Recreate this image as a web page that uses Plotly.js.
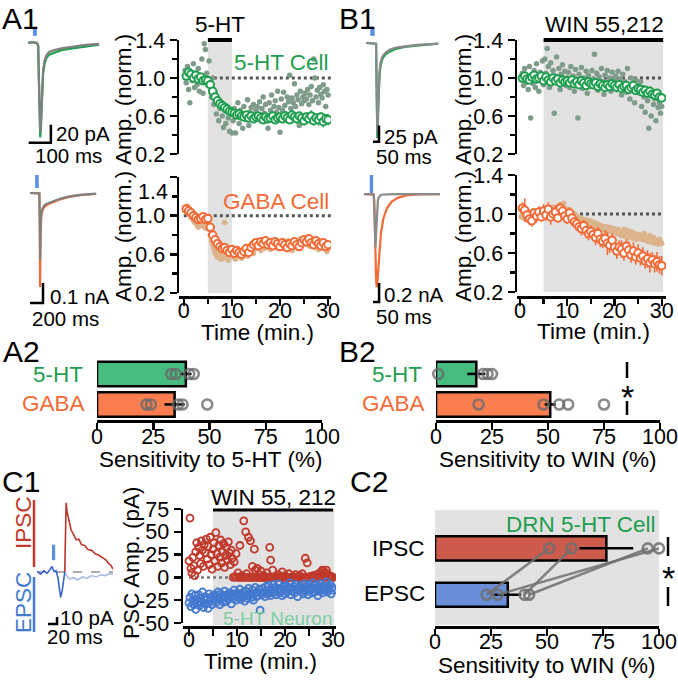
<!DOCTYPE html>
<html><head><meta charset="utf-8">
<script src="https://cdn.plot.ly/plotly-3.0.1.min.js"></script>
<style>html,body{margin:0;padding:0;background:#fff;}#chart{width:678px;height:681px;}</style>
</head><body><div id="chart"></div>
<script>
// ---------------- DATA ----------------
// Example traces (time in ms, current in pA)
const a1HtT     = [0, 20, 40, 46, 49, 52, 55, 58, 61, 64, 68, 74, 82, 95, 115, 150, 200, 260, 320];
const a1HtGray  = [0, 1, 0, -3, -40, -85, -99, -88, -66, -45, -30, -20, -14, -10, -8, -6, -4, -2, -1];
const a1HtGreen = [0, 1, 0, -3, -42, -90, -105, -95, -72, -50, -34, -24, -17, -13, -11, -8, -6, -4, -2];
const a1GabaT      = [30, 120, 175, 182, 186, 190, 195, 205, 222, 250, 300, 380, 480, 620, 800, 1050];
const a1GabaGray   = [0, 0, -2, -150, -335, -250, -150, -100, -78, -62, -52, -42, -30, -18, -9, -3];
const a1GabaOrange = [0, 0, -2, -190, -470, -330, -190, -118, -88, -70, -58, -47, -34, -21, -11, -5];
const b1HtT     = [0, 60, 84, 88, 91, 94, 97, 101, 106, 112, 120, 135, 160, 200, 250, 320, 420, 520, 600];
const b1HtGray  = [0, 0, -1, -60, -125, -138, -125, -98, -70, -46, -31, -21, -15, -10, -7, -5, -3, -2, -1];
const b1HtGreen = [0, 0, -1, -65, -135, -146, -134, -106, -77, -52, -36, -25, -18, -13, -9, -6, -4, -2, -1];
const b1GabaT      = [0, 70, 80, 85, 90, 95, 100, 105, 110, 115, 120, 130, 140, 160, 190, 230, 280, 350, 450, 630];
const b1GabaGray   = [0, 0, -5, -150, -450, -560, -420, -250, -130, -70, -40, -20, -10, -5, -2, 0, 0, 0, 0, 0];
const b1GabaOrange = [0, 0, -3, -60, -250, -600, -900, -980, -940, -850, -740, -560, -420, -260, -150, -80, -40, -15, -5, 0];
const c1PreT   = [0, 8, 15, 22, 28, 33, 37, 42, 46, 49, 52, 55, 58, 61];
const c1PreI   = [1, -3, 2, -2, 3, 8, 1, 2, -8, -24, -36, -28, -12, 0];
const c1IpscT  = [61, 63, 64, 66, 70, 75, 80, 86, 92, 98, 105, 112, 120, 128, 136, 144, 152, 158, 163, 167];
const c1IpscI  = [0, 60, 99, 86, 72, 60, 54, 46, 47, 39, 38, 32, 31, 26, 24, 20, 17, 12, 9, 4];
const c1EpscT  = [61, 66, 72, 80, 90, 100, 110, 120, 130, 140, 150, 160, 167];
const c1EpscI  = [0, -6, -10, -8, -11, -7, -9, -5, -7, -4, -5, -2, -3];

// Time courses (normalized amplitude); means every 0.5 min, single cells every 0.25 min
const a1HtMean = [1.02,1.06,1.04,1.00,1.03,0.99,1.01,0.97,0.98,0.97, 0.93,0.86,0.80,0.76,0.73,0.71,0.69,0.67,0.65,0.64,
  0.63,0.61,0.62,0.60,0.59,0.61,0.58,0.60,0.57,0.59, 0.60,0.58,0.56,0.59,0.57,0.58,0.60,0.56,0.58,0.59,
  0.57,0.60,0.58,0.56,0.61,0.59,0.57,0.60,0.58,0.55, 0.59,0.57,0.60,0.55,0.58,0.56,0.59,0.54,0.57,0.56];
const a1HtErr = [0.04,0.05,0.04,0.03,0.04,0.03,0.03,0.03,0.03,0.03, 0.03,0.04,0.03,0.03,0.03,0.03,0.03,0.03,0.03,0.03,
  0.03,0.03,0.03,0.04,0.03,0.03,0.03,0.04,0.03,0.03, 0.04,0.03,0.03,0.04,0.03,0.03,0.04,0.03,0.04,0.04,
  0.04,0.05,0.04,0.04,0.05,0.04,0.05,0.04,0.05,0.05, 0.05,0.04,0.06,0.05,0.05,0.06,0.05,0.06,0.05,0.06];
const a1HtCell = [1.08,0.95,1.12,0.88,0.74,1.02,0.97,1.15,0.90,1.05,0.93,1.10,0.86,0.99,1.20,0.84,1.36,1.30,1.05,0.92,
  1.18,0.95,0.80,1.00,0.72,0.85,0.62,0.78,0.55,0.68,0.74,0.60,0.48,0.66,0.52,0.70,0.58,0.44,0.62,0.42,
  0.55,0.68,0.42,0.60,0.74,0.52,0.66,0.58,0.47,0.70,0.62,0.56,0.77,0.50,0.64,0.69,0.58,0.72,0.61,0.66,
  0.70,0.60,0.75,0.55,0.68,0.80,0.63,0.72,0.58,0.47,0.74,0.66,0.82,0.61,0.70,0.76,0.64,0.86,0.69,0.43,
  0.78,0.66,0.85,0.71,0.62,0.80,0.75,1.03,0.68,0.79,0.74,0.94,0.70,0.82,0.77,0.50,0.86,0.73,0.80,0.76,
  0.84,0.78,0.88,0.72,0.82,0.91,0.76,1.20,1.00,0.80,0.87,0.74,0.90,0.83,0.79,0.93,0.86,0.70,0.88,0.82];
const a1GabaMean = [1.07,1.05,1.03,1.00,0.98,0.96,0.97,0.99,0.96,0.97, 0.88,0.80,0.75,0.71,0.68,0.66,0.67,0.64,0.62,0.65,
  0.61,0.64,0.62,0.60,0.63,0.66,0.62,0.67,0.70,0.72, 0.69,0.73,0.71,0.74,0.70,0.72,0.69,0.73,0.71,0.68,
  0.72,0.70,0.67,0.71,0.69,0.73,0.70,0.68,0.72,0.75, 0.73,0.76,0.72,0.70,0.74,0.71,0.69,0.72,0.68,0.70];
const a1GabaErr = [0.04,0.03,0.03,0.03,0.03,0.03,0.03,0.03,0.03,0.03, 0.03,0.04,0.03,0.04,0.03,0.04,0.03,0.04,0.04,0.03,
  0.04,0.03,0.04,0.03,0.04,0.03,0.03,0.04,0.03,0.03, 0.03,0.04,0.03,0.03,0.04,0.03,0.03,0.03,0.04,0.03,
  0.03,0.03,0.04,0.03,0.03,0.03,0.04,0.03,0.03,0.03, 0.03,0.03,0.04,0.03,0.03,0.03,0.03,0.04,0.03,0.03];
const a1GabaCell = [1.05,1.08,1.10,1.02,1.06,0.98,1.00,0.95,0.93,0.97,0.90,0.88,0.94,0.91,0.96,0.89,0.93,0.87,0.92,0.90,
  0.86,0.80,0.74,0.70,0.66,0.62,0.60,0.57,0.63,0.58,0.55,0.60,0.56,0.93,0.62,0.58,0.54,0.61,0.59,0.63,
  0.57,0.60,0.55,0.62,0.58,0.64,0.60,0.56,0.63,0.59,0.61,0.66,0.58,0.64,0.62,0.68,0.65,0.61,0.69,0.66,
  0.70,0.67,0.72,0.64,0.69,0.73,0.66,0.70,0.75,0.68,0.71,0.65,0.70,0.74,0.67,0.72,0.69,0.66,0.71,0.68,
  0.70,0.66,0.72,0.68,0.65,0.71,0.74,0.67,0.70,0.64,0.69,0.73,0.68,0.71,0.66,0.70,0.76,0.69,0.72,0.75,
  0.73,0.77,0.70,0.74,0.68,0.72,0.76,0.71,0.67,0.73,0.70,0.65,0.72,0.69,0.74,0.66,0.70,0.68,0.63,0.66];
const b1HtMean = [1.00,1.02,0.99,0.98,1.01,1.03,0.99,1.00,1.02,0.97, 1.01,0.98,0.96,1.00,0.97,0.99,0.95,0.98,0.96,0.97,
  0.95,0.98,0.94,0.96,0.93,0.97,0.95,0.92,0.96,0.94, 0.93,0.95,0.91,0.94,0.92,0.90,0.93,0.91,0.94,0.92,
  0.90,0.93,0.89,0.91,0.92,0.88,0.90,0.92,0.87,0.89, 0.88,0.85,0.87,0.84,0.86,0.83,0.82,0.84,0.80,0.79];
const b1HtErr = [0.03,0.03,0.03,0.04,0.03,0.04,0.03,0.03,0.04,0.03, 0.03,0.04,0.03,0.03,0.04,0.03,0.04,0.03,0.03,0.04,
  0.03,0.04,0.03,0.04,0.03,0.03,0.04,0.03,0.04,0.03, 0.04,0.03,0.04,0.03,0.04,0.03,0.04,0.03,0.03,0.04,
  0.04,0.03,0.04,0.04,0.03,0.04,0.04,0.03,0.04,0.04, 0.04,0.05,0.04,0.04,0.05,0.04,0.05,0.04,0.05,0.04];
const b1HtCell = [0.98,1.05,0.92,1.10,0.95,1.00,0.88,1.12,0.58,1.03,0.94,1.08,0.90,1.15,0.97,0.86,1.06,0.99,1.18,0.93,
  1.20,1.05,1.31,1.12,0.90,1.16,0.98,1.08,0.63,1.02,1.22,0.95,1.10,0.88,1.04,1.14,0.97,1.07,0.92,1.00,
  1.06,0.90,1.12,0.96,1.02,0.86,1.09,0.98,0.58,1.04,0.93,1.11,0.89,1.00,0.95,1.07,0.84,1.03,0.97,0.91,
  1.08,0.99,1.25,0.94,1.05,0.87,1.01,0.92,1.10,0.96,0.83,1.03,0.95,1.08,0.90,1.00,0.86,1.06,0.93,0.98,
  1.02,0.88,1.07,0.94,0.99,0.82,1.04,0.91,0.96,0.85,1.10,0.93,0.78,1.00,0.89,0.95,0.74,0.98,0.87,0.92,
  0.84,0.96,0.70,0.90,0.80,0.64,0.88,0.76,0.47,0.82,0.60,0.86,0.72,0.78,0.55,0.81,0.69,0.74,0.63,0.70];
const b1GabaMean = [1.06,1.04,0.99,0.95,0.93,1.01,0.98,1.02,0.97,1.03, 0.99,1.05,0.97,1.00,1.02,0.96,1.06,1.03,0.98,0.95,
  1.01,0.96,0.92,0.90,0.87,0.85,0.88,0.83,0.80,0.82, 0.79,0.76,0.80,0.74,0.72,0.75,0.70,0.68,0.73,0.66,
  0.62,0.66,0.64,0.60,0.67,0.63,0.58,0.62,0.56,0.60, 0.55,0.57,0.52,0.54,0.50,0.53,0.49,0.51,0.48,0.47];
const b1GabaErr = [0.06,0.12,0.07,0.06,0.06,0.05,0.07,0.06,0.05,0.07, 0.06,0.07,0.08,0.06,0.07,0.05,0.06,0.07,0.06,0.05,
  0.06,0.07,0.06,0.07,0.06,0.07,0.06,0.08,0.07,0.06, 0.07,0.08,0.07,0.08,0.07,0.08,0.12,0.08,0.07,0.08,
  0.08,0.07,0.09,0.08,0.07,0.09,0.08,0.09,0.08,0.09, 0.08,0.09,0.08,0.09,0.10,0.08,0.09,0.10,0.09,0.10];
const b1GabaCell = [0.97,1.00,0.96,1.02,0.98,0.95,1.01,0.99,0.96,1.03,0.98,1.00,0.97,1.02,0.99,0.96,1.01,0.98,1.04,1.00,
  0.99,1.03,1.01,0.98,1.05,1.02,1.00,1.07,1.04,1.01,1.06,1.03,1.09,1.05,1.02,1.08,1.11,1.06,1.03,1.05,
  1.02,1.04,1.00,0.98,1.01,0.97,0.99,0.95,0.97,0.94,0.96,0.92,0.95,0.93,0.90,0.94,0.91,0.89,0.93,0.90,
  0.92,0.88,0.91,0.87,0.90,0.86,0.89,0.85,0.88,0.84,0.87,0.86,0.83,0.87,0.85,0.82,0.86,0.84,0.81,0.85,
  0.83,0.80,0.84,0.79,0.82,0.78,0.81,0.84,0.77,0.80,0.83,0.76,0.79,0.82,0.78,0.75,0.80,0.77,0.74,0.79,
  0.76,0.78,0.74,0.77,0.80,0.73,0.76,0.72,0.75,0.78,0.71,0.74,0.76,0.70,0.73,0.72,0.69,0.74,0.71,0.70];

// Sensitivity bars (%)
const a2Cats = ['5-HT', 'GABA'];
const a2Mean = [39.5, 34.5];
const a2Sem  = [2.5, 4.5];
const a2HtPts   = [33, 35, 41, 43];
const a2GabaPts = [22, 24, 36, 38, 49];
const b2Mean = [18, 51];
const b2Sem  = [4, 2.5];
const b2HtPts   = [1, 21, 23, 25];
const b2GabaPts = [19, 48, 55, 59, 75];

// C1: PSC amplitude (pA), one sample every 0.2 min
const c1Ipsc = [18,65,10,5,22,13,2,28,38,8, 33,24,15,40,30,12,36,27,42,20, 34,14,44,25,9,31,38,18,49,26,
  12,35,22,41,16,28,37,11,24,33, 19,39,27,14,30,21,
  0,17,1,26,0,5,0,35,0,2, 0,62,0,50,4,0,44,0,40,0, 12,0,31,8,0,10,0,3,0,7, 0,0,2,0,0,5,0,0,33,19,
  0,8,0,0,1,0,0,3,0,0, 0,6,0,0,2,0,0,0,4,0, 0,0,1,0,0,3,0,0,0,2, 0,0,4,0,0,21,0,16,0,0,
  1,0,0,2,0,0,0,3,0,0, 5,2,7,8,3,6,0,8,4,0, 2,0,1,0,0];
const c1Epsc = [-28,-22,-32,-18,-26,-30,-20,-35,-24,-27, -19,-31,-23,-28,-16,-33,-25,-21,-29,-24, -34,-18,-26,-22,-30,-20,
  -25,-19,-28,-21,-16,-24,-30,-18,-23,-20, -27,-15,-22,-26,-19,-24,-17,-21,-29,-18, -23,-14,-20,-25,-17,-22,-19,-13,-24,-18,
  -21,-16,-26,-15,-20,-23,-12,-19,-17,-22, -14,-25,-18,-11,-21,-16,-20,-13,-36,-17,
  -19,-12,-16,-21,-10,-14,-18,-9,-15,-20, -13,-17,-8,-16,-11,-19,-14,-7,-17,-12, -15,-20,-10,-13,-18,-9,-16,-11,-14,-6,
  -19,-12,-15,-10,-17,-8,-13,-21,-11,-14, -9,-16,-12,-18,-7,-15,-10,-13,-19,-8, -14,-11,-17,-6,-12,-16,-9,-13,-20,-10,
  -15,-7,-12,-17,-9,-14,-11,-5,-16,-10, -13,-8,-18,-11,-14];

// C2: paired sensitivity to WIN (%)
const c2Cats = ['IPSC', 'EPSC'];
const c2Mean = [76.5, 32.5];
const c2Sem  = [12, 6];
const c2IpscPts = [51, 61, 95, 100];
const c2EpscPts = [23, 40, 42, 28];

// ---------------- LAYOUT HELPERS ----------------
const W = 678, H = 681;
const px = v => v / W, py = v => 1 - v / H;
const dX = (a, b) => [px(a), px(b)];
const dY = (top, bot) => [py(bot), py(top)];
const FONT = 'Liberation Sans, Arial, Helvetica, sans-serif';
const TS = 21.5, LS = 22.5, PS = 30, SB = 20.5;
const TICKF = {family: FONT, size: TS, color: '#000'};
const LW = 2.5;

const hid = (domain, range, anchor) => ({domain, range, anchor, visible: false, fixedrange: true});
function linAxis(domain, range, anchor, o) {
  return Object.assign({domain, range, anchor, showline: true, linecolor: '#000', linewidth: LW,
    ticks: 'outside', ticklen: 7, tickwidth: LW, tickcolor: '#000', showgrid: false, zeroline: false,
    tickfont: TICKF, fixedrange: true}, o || {});
}

const GREEN = '#1e9e4e', GRAYDOT = '#7f9c8b', ORANGE = '#f26a36', TAN = '#dcb48c';
const BAND = '#e2e2e2', DOT = '#555555';
const RED = '#c0392b', BLUE = '#4479d0';

const data = [];
const lineTr = (x, y, xa, ya, color, w) => data.push({type: 'scatter', mode: 'lines', x, y, xaxis: xa, yaxis: ya,
  line: {color, width: w || 2.2}, hoverinfo: 'skip', showlegend: false});

// Example traces
lineTr(a1HtT, a1HtGreen, 'x', 'y', '#1ea050');
lineTr(a1HtT, a1HtGray, 'x', 'y', '#808080');
lineTr(a1GabaT, a1GabaOrange, 'x2', 'y2', ORANGE);
lineTr(a1GabaT, a1GabaGray, 'x2', 'y2', '#808080');
lineTr(b1HtT, b1HtGreen, 'x5', 'y5', '#1ea050');
lineTr(b1HtT, b1HtGray, 'x5', 'y5', '#8a8a8a');
lineTr(b1GabaT, b1GabaOrange, 'x6', 'y6', ORANGE);
lineTr(b1GabaT, b1GabaGray, 'x6', 'y6', '#8a8a8a');
lineTr(c1EpscT, c1EpscI, 'x11', 'y11', '#a9bde8', 1.6);
lineTr(c1PreT, c1PreI, 'x11', 'y11', '#3b66c4', 1.6);
lineTr(c1IpscT, c1IpscI, 'x11', 'y11', '#b8362a', 1.6);

// Time-course scatter
function cellDots(y, xa, ya, color) {
  data.push({type: 'scatter', mode: 'markers', y, x0: 0.25, dx: 0.25, xaxis: xa, yaxis: ya,
    marker: {color, size: 5.5}, hoverinfo: 'skip', showlegend: false});
}
function meanPts(y, err, xa, ya, color) {
  data.push({type: 'scatter', mode: 'markers', y, x0: 0.5, dx: 0.5, xaxis: xa, yaxis: ya,
    error_y: {type: 'data', array: err, color, thickness: 1.6, width: 0},
    marker: {color: '#fff', size: 7.5, line: {color, width: 2}}, hoverinfo: 'skip', showlegend: false});
}
cellDots(a1HtCell, 'x3', 'y3', GRAYDOT); meanPts(a1HtMean, a1HtErr, 'x3', 'y3', GREEN);
cellDots(a1GabaCell, 'x4', 'y4', TAN);   meanPts(a1GabaMean, a1GabaErr, 'x4', 'y4', ORANGE);
cellDots(b1HtCell, 'x7', 'y7', GRAYDOT); meanPts(b1HtMean, b1HtErr, 'x7', 'y7', GREEN);
cellDots(b1GabaCell, 'x8', 'y8', TAN);   meanPts(b1GabaMean, b1GabaErr, 'x8', 'y8', ORANGE);

// Bars A2/B2
const PTGRAY = 'rgba(105,105,105,0.78)';
function sensBars(mean, sem, xa, ya, colors) {
  data.push({type: 'bar', orientation: 'h', x: mean, y: a2Cats, xaxis: xa, yaxis: ya, width: 0.8,
    marker: {color: colors, line: {color: '#000', width: LW}},
    error_x: {type: 'data', array: sem, color: '#000', thickness: 2.5, width: 0},
    hoverinfo: 'skip', showlegend: false});
}
function ptsTr(x, cat, xa, ya) {
  data.push({type: 'scatter', mode: 'markers', x, y: x.map(() => cat), xaxis: xa, yaxis: ya,
    marker: {symbol: 'circle-open', size: 10, color: PTGRAY, line: {width: 2.6}}, cliponaxis: false,
    hoverinfo: 'skip', showlegend: false});
}
sensBars(a2Mean, a2Sem, 'x9', 'y9', ['#46bd7e', '#fb7e50']);
ptsTr(a2HtPts, '5-HT', 'x9', 'y9'); ptsTr(a2GabaPts, 'GABA', 'x9', 'y9');
sensBars(b2Mean, b2Sem, 'x10', 'y10', ['#46bd7e', '#fb7e50']);
ptsTr(b2HtPts, '5-HT', 'x10', 'y10'); ptsTr(b2GabaPts, 'GABA', 'x10', 'y10');

// C1 scatter
data.push({type: 'scatter', mode: 'markers', y: c1Ipsc, x0: 0, dx: 0.2, xaxis: 'x12', yaxis: 'y12',
  marker: {symbol: 'circle-open', size: 7, color: RED, line: {width: 1.8}}, hoverinfo: 'skip', showlegend: false});
data.push({type: 'scatter', mode: 'markers', y: c1Epsc, x0: 0, dx: 0.2, xaxis: 'x12', yaxis: 'y12',
  marker: {symbol: 'circle-open', size: 7, color: BLUE, line: {width: 1.8}}, hoverinfo: 'skip', showlegend: false});

// C2 bars + paired lines
data.push({type: 'bar', orientation: 'h', x: c2Mean, y: c2Cats, xaxis: 'x13', yaxis: 'y13', width: 0.52,
  marker: {color: ['#cc5b4d', '#6a8fd8'], line: {color: '#000', width: LW}},
  error_x: {type: 'data', array: c2Sem, color: '#000', thickness: 2.5, width: 0},
  hoverinfo: 'skip', showlegend: false});
c2IpscPts.forEach((v, i) => {
  data.push({type: 'scatter', mode: 'lines+markers', x: [v, c2EpscPts[i]], y: c2Cats, xaxis: 'x13', yaxis: 'y13',
    line: {color: 'rgba(110,110,110,0.85)', width: 2.5},
    marker: {symbol: 'circle-open', size: 10, color: 'rgba(110,110,110,0.85)', line: {width: 2.6}},
    cliponaxis: false, hoverinfo: 'skip', showlegend: false});
});

// ---------------- AXES ----------------
const minorT = (vals, len) => ({tickvals: vals, ticklen: len, tickwidth: LW, tickcolor: '#000', ticks: 'outside'});
const layout = {
  width: W, height: H, margin: {l: 0, r: 0, t: 0, b: 0},
  paper_bgcolor: '#fff', plot_bgcolor: 'rgba(0,0,0,0)',
  font: {family: FONT, color: '#000'}, showlegend: false, bargap: 0,
  // example traces
  xaxis: hid(dX(28, 102), [0, 333], 'y'),   yaxis: hid(dY(25, 150), [-119, 20], 'x'),
  xaxis2: hid(dX(28, 100), [0, 1109], 'y2'), yaxis2: hid(dY(170, 310), [-585, 115], 'x2'),
  xaxis5: hid(dX(366, 440), [0, 615], 'y5'), yaxis5: hid(dY(25, 150), [-164.6, 27.7], 'x5'),
  xaxis6: hid(dX(364, 440), [0, 630], 'y6'), yaxis6: hid(dY(170, 310), [-1221, 253], 'x6'),
  xaxis11: hid(dX(37, 113), [0, 167], 'y11'), yaxis11: hid(dY(495, 640), [-97, 110], 'x11'),
  // A1 time courses
  xaxis3: hid(dX(179, 331), [-1, 30.6], 'y3'),
  yaxis3: linAxis(dY(40, 154), [0.2, 1.4], 'x3', {tickvals: [0.2, 0.6, 1.0, 1.4], ticktext: ['0.2', '0.6', '1.0', '1.4'],
    minor: minorT([0.4, 0.8, 1.2], 5)}),
  xaxis4: linAxis(dX(179, 331), [-1, 30.6], 'free', {position: py(297), tickvals: [0, 10, 20, 30],
    ticklabelstandoff: -13, minor: minorT([5, 15, 25], 5)}),
  yaxis4: linAxis(dY(177, 293), [0.2, 1.4], 'x4', {tickvals: [0.2, 0.6, 1.0, 1.4], ticktext: ['0.2', '0.6', '1.0', ''],
    minor: minorT([0.4, 0.8, 1.2], 5)}),
  // B1 time courses
  xaxis7: hid(dX(517, 666), [-0.63, 30.9], 'y7'),
  yaxis7: linAxis(dY(40, 154), [0.2, 1.4], 'x7', {tickvals: [0.2, 0.6, 1.0, 1.4], ticktext: ['0.2', '0.6', '1.0', '1.4'],
    minor: minorT([0.4, 0.8, 1.2], 5)}),
  xaxis8: linAxis(dX(517, 666), [-0.63, 30.9], 'free', {position: py(297), tickvals: [0, 10, 20, 30],
    ticklabelstandoff: -13, minor: minorT([5, 15, 25], 5)}),
  yaxis8: linAxis(dY(175, 292), [0.2, 1.4], 'x8', {tickvals: [0.2, 0.6, 1.0, 1.4], ticktext: ['0.2', '0.6', '1.0', '1.4'],
    minor: minorT([0.4, 0.8, 1.2], 5)}),
  // A2 / B2
  xaxis9: linAxis(dX(97, 322), [0, 100], 'y9', {tickvals: [0, 25, 50, 75, 100], ticklabelstandoff: -11}),
  yaxis9: {domain: dY(359, 420), anchor: 'x9', type: 'category', categoryorder: 'array', categoryarray: ['GABA', '5-HT'],
    range: [-0.51, 1.49], visible: false, fixedrange: true},
  xaxis10: linAxis(dX(436, 660), [0, 100], 'y10', {tickvals: [0, 25, 50, 75, 100], ticklabelstandoff: -11}),
  yaxis10: {domain: dY(359, 420), anchor: 'x10', type: 'category', categoryorder: 'array', categoryarray: ['GABA', '5-HT'],
    range: [-0.51, 1.49], visible: false, fixedrange: true},
  // C1
  xaxis12: linAxis(dX(183, 336), [-1.25, 30.6], 'free', {position: py(627), tickvals: [0, 10, 20, 30],
    ticklabelstandoff: -14, minor: minorT([5, 15, 25], 7)}),
  yaxis12: linAxis(dY(509, 623), [-50, 75], 'x12', {tickvals: [-50, -25, 0, 25, 50, 75],
    ticktext: ['-50', '-25', '0', '25', '50', '75']}),
  // C2
  xaxis13: linAxis(dX(435, 659), [0, 100], 'y13', {tickvals: [0, 25, 50, 75, 100], ticklabelstandoff: -12}),
  yaxis13: {domain: dY(510, 626), anchor: 'x13', type: 'category', categoryorder: 'array', categoryarray: ['EPSC', 'IPSC'],
    range: [-0.674, 1.826], visible: false, fixedrange: true},
};

// ---------------- SHAPES ----------------
const shapes = [];
const pline = (x0, y0, x1, y1, color, w, dash) => shapes.push({type: 'line', xref: 'paper', yref: 'paper',
  x0: px(x0), y0: py(y0), x1: px(x1), y1: py(y1), line: {color, width: w, dash: dash || 'solid'}});
// bands (drug application)
shapes.push({type: 'rect', xref: 'x4', yref: 'paper', x0: 5, x1: 10, y0: py(293), y1: py(40), fillcolor: BAND, line: {width: 0}, layer: 'below'});
shapes.push({type: 'rect', xref: 'x8', yref: 'paper', x0: 5, x1: 30.3, y0: py(292), y1: py(40), fillcolor: BAND, line: {width: 0}, layer: 'below'});
shapes.push({type: 'rect', xref: 'x12', yref: 'paper', x0: 5, x1: 30.2, y0: py(625), y1: py(510), fillcolor: BAND, line: {width: 0}, layer: 'below'});
shapes.push({type: 'rect', xref: 'x13 domain', yref: 'y13 domain', x0: 0, x1: 1, y0: 0.01, y1: 1, fillcolor: BAND, line: {width: 0}, layer: 'below'});
// drug bars
shapes.push({type: 'line', xref: 'x4', yref: 'paper', x0: 5, x1: 10, y0: py(40), y1: py(40), line: {color: '#000', width: 4}});
shapes.push({type: 'line', xref: 'x8', yref: 'paper', x0: 5, x1: 30.3, y0: py(40), y1: py(40), line: {color: '#000', width: 4}});
shapes.push({type: 'line', xref: 'x12', yref: 'paper', x0: 5, x1: 30, y0: py(510), y1: py(510), line: {color: '#000', width: 3}});
// baselines
[['x3', 'y3', 30.6], ['x4', 'y4', 30.6], ['x7', 'y7', 30.3], ['x8', 'y8', 30.3]].forEach(([xa, ya, e]) =>
  shapes.push({type: 'line', xref: xa, yref: ya, x0: 0, x1: e, y0: 1, y1: 1, line: {color: DOT, width: 3, dash: 'dot'}, layer: 'below'}));
shapes.push({type: 'line', xref: 'x12', yref: 'y12', x0: 0, x1: 30, y0: 0, y1: 0, line: {color: '#777', width: 2.5, dash: 'dot'}, layer: 'below'});
shapes.push({type: 'line', xref: 'x11', yref: 'y11', x0: 0, x1: 167, y0: 0, y1: 0, line: {color: '#aaa', width: 2, dash: 'dash'}, layer: 'below'});
// stimulus marks
const STIM = '#5b8fe0';
shapes.push({type: 'rect', xref: 'x', yref: 'y', x0: 22, x1: 40, y0: 8, y1: 16, fillcolor: STIM, line: {width: 0}});
shapes.push({type: 'rect', xref: 'x2', yref: 'y2', x0: 110, x1: 165, y0: 25, y1: 90, fillcolor: STIM, line: {width: 0}});
shapes.push({type: 'rect', xref: 'x5', yref: 'y5', x0: 36, x1: 72, y0: 11, y1: 23, fillcolor: STIM, line: {width: 0}});
shapes.push({type: 'rect', xref: 'x6', yref: 'y6', x0: 48, x1: 76, y0: 10, y1: 200, fillcolor: STIM, line: {width: 0}});
shapes.push({type: 'rect', xref: 'x11', yref: 'y11', x0: 33, x1: 40, y0: 17, y1: 39, fillcolor: STIM, line: {width: 0}});
// scale bars
function scaleBar(xa, ya, xEnd, yBot, ms, pA) {
  shapes.push({type: 'path', xref: xa, yref: ya,
    path: `M ${xEnd - ms} ${yBot} L ${xEnd} ${yBot} L ${xEnd} ${yBot + pA}`, line: {color: '#000', width: 2.5}});
}
scaleBar('x', 'y', 103, -111, 100, 20);
scaleBar('x2', 'y2', 231, -550, 200, 100);
scaleBar('x5', 'y5', 108, -152, 50, 25);
scaleBar('x6', 'y6', 125, -1137, 50, 200);
scaleBar('x11', 'y11', 44, -74, 20, 10);
// IPSC / EPSC markers
pline(34, 500, 34, 567, RED, 2.5);
pline(34, 577, 34, 632, BLUE, 2.5);
// significance
pline(627, 362, 627, 378, '#000', 2.5);
pline(627, 401, 627, 415, '#000', 2.5);
pline(668, 537, 668, 556, '#000', 2.5);
pline(668, 587, 668, 606, '#000', 2.5);
layout.shapes = shapes;

// ---------------- TEXT ----------------
const ann = [];
function T(text, x, y, o) {
  o = o || {};
  ann.push({text, xref: 'paper', yref: 'paper', x: px(x), y: py(y), showarrow: false,
    xanchor: o.xa || 'center', yanchor: o.ya || 'middle', textangle: o.rot || 0,
    font: {family: FONT, size: o.size || LS, color: o.color || '#000'}});
}
T('A1', 20, 0, {size: PS, ya: 'top'}); T('B1', 357, 0, {size: PS, ya: 'top'});
T('A2', 21, 351, {size: PS}); T('B2', 357, 351, {size: PS});
T('C1', 21, 481, {size: PS}); T('C2', 369, 481, {size: PS});
// scale bar labels
T('20 pA', 54, 134, {xa: 'left', size: SB}); T('100 ms', 68, 155, {size: SB});
T('0.1 nA', 48, 296, {xa: 'left', size: SB}); T('200 ms', 65, 318, {size: SB});
T('25 pA', 382, 136, {xa: 'left', size: SB}); T('50 ms', 404, 156, {size: SB});
T('0.2 nA', 382, 294, {xa: 'left', size: SB}); T('50 ms', 404, 316, {size: SB});
T('10 pA', 58, 617, {xa: 'left', size: SB}); T('20 ms', 75, 636, {size: SB});
// A1/B1
T('5-HT', 220, 25); T('WIN 55,212', 604, 25);
T('5-HT Cell', 331, 62, {xa: 'right', color: GREEN});
T('GABA Cell', 331, 202, {xa: 'right', color: ORANGE});
T('Amp. (norm.)', 123, 100, {rot: -90}); T('Amp. (norm.)', 123, 237, {rot: -90});
T('Amp. (norm.)', 463, 100, {rot: -90}); T('Amp. (norm.)', 463, 237, {rot: -90});
T('1.4', 170, 192, {xa: 'right', size: TS});
T('Time (min.)', 257, 332); T('Time (min.)', 593, 331);
// A2/B2
T('5-HT', 85, 375, {xa: 'right', color: GREEN}); T('GABA', 87, 403, {xa: 'right', color: ORANGE});
T('5-HT', 424, 375, {xa: 'right', color: GREEN}); T('GABA', 427, 403, {xa: 'right', color: ORANGE});
T('Sensitivity to 5-HT (%)', 210, 459); T('Sensitivity to WIN (%)', 548, 459);
T('*', 627, 397, {size: 34}); T('*', 668, 578, {size: 34});
// C1
T('IPSC', 23, 523, {rot: -90, color: RED}); T('EPSC', 23, 603, {rot: -90, color: BLUE});
T('WIN 55, 212', 273, 497);
T('5-HT Neuron', 334, 618, {xa: 'right', size: 19, color: '#7fcfa0'});
T('PSC Amp. (pA)', 131, 563, {rot: -90});
T('Time (min.)', 260, 661);
// C2
T('DRN 5-HT Cell', 658, 524, {xa: 'right', color: GREEN});
T('IPSC', 427, 548, {xa: 'right'}); T('EPSC', 427, 593, {xa: 'right'});
T('Sensitivity to WIN (%)', 547, 665);
layout.annotations = ann;

Plotly.newPlot('chart', data, layout, {staticPlot: true, displayModeBar: false});
</script>
</body></html>
